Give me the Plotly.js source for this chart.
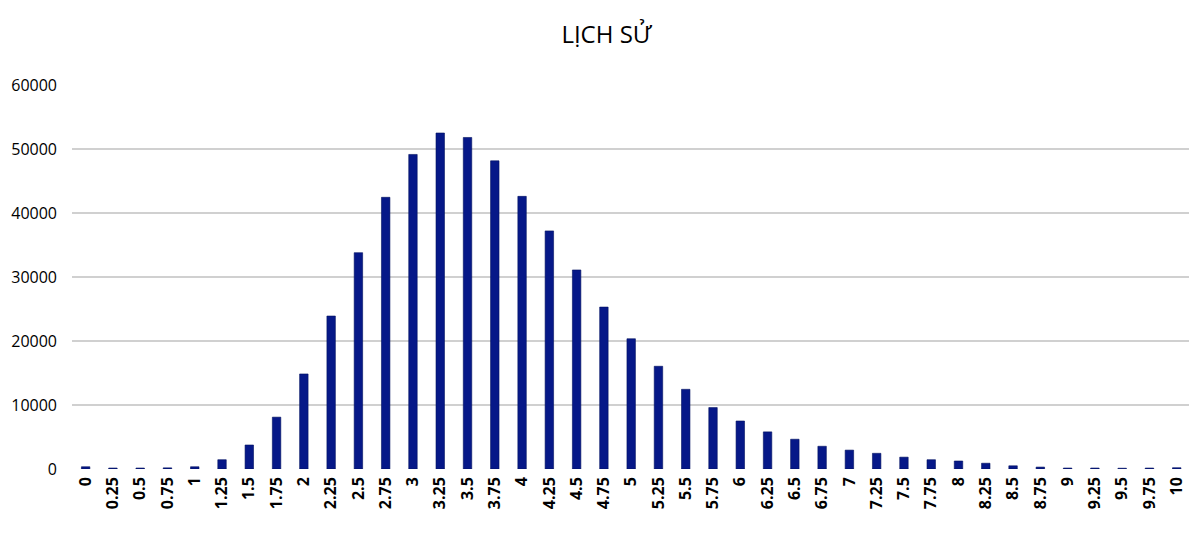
<!DOCTYPE html>
<html>
<head>
<meta charset="utf-8">
<script src="https://cdn.plot.ly/plotly-3.0.1.min.js"></script>
<style>
  html, body { margin: 0; padding: 0; background: #fff; }
  #chart { width: 1189px; height: 535px; }
</style>
</head>
<body>
<div id="chart"></div>
<script>
// Categories (x labels) and counts
const categories = ['0', '0.25', '0.5', '0.75', '1', '1.25', '1.5', '1.75', '2', '2.25',
  '2.5', '2.75', '3', '3.25', '3.5', '3.75', '4', '4.25', '4.5', '4.75',
  '5', '5.25', '5.5', '5.75', '6', '6.25', '6.5', '6.75', '7', '7.25',
  '7.5', '7.75', '8', '8.25', '8.5', '8.75', '9', '9.25', '9.5', '9.75', '10'];

const counts = [350, 150, 150, 180, 350, 1450, 3750, 8100, 14850, 23900,
  33800, 42450, 49150, 52500, 51800, 48150, 42600, 37200, 31100, 25300,
  20350, 16050, 12450, 9600, 7500, 5800, 4650, 3550, 2950, 2450,
  1850, 1450, 1250, 900, 500, 300, 150, 150, 120, 150, 200];

const yTicks = [0, 10000, 20000, 30000, 40000, 50000, 60000];

const chartTitle = 'LỊCH SỬ';

var histTrace = {
  x: categories,
  y: counts,
  type: 'bar',
  marker: { color: '#061888', line: { color: '#00105f', width: 0.6 } },
  hoverinfo: 'x+y',
};

var histLayout = {
  width: 1189,
  height: 535,
  title: {
    text: chartTitle,
    x: 0.51,
    xanchor: 'center',
    y: 0.935,
    yanchor: 'middle',
    font: { family: 'Open Sans, sans-serif', size: 24, weight: 500, color: '#000' },
  },
  font: { family: 'Open Sans, sans-serif', size: 16, color: '#000' },
  margin: { t: 85, b: 66, l: 72, r: 0, pad: 0 },
  bargap: 0.69,
  plot_bgcolor: '#fff',
  paper_bgcolor: '#fff',
  showlegend: false,
  xaxis: {
    type: 'category',
    // right end a little past the last bar so the "10" label stays inside
    range: [-0.5, 40.45],
    tickangle: -90,
    ticks: '',
    showline: false,
    showgrid: false,
    zeroline: false,
    ticklabelstandoff: 4,
    automargin: false,
    tickfont: { family: 'Open Sans, sans-serif', size: 16, weight: 700, color: '#000' },
  },
  yaxis: {
    range: [0, 60000],
    tickvals: yTicks,
    ticktext: yTicks.map((v) => String(v)),
    showgrid: true,
    gridcolor: '#d0d0d0',
    gridwidth: 1.5,
    zeroline: false,
    showline: false,
    ticks: '',
    ticklabelstandoff: 14,
    tickfont: { family: 'Open Sans, sans-serif', size: 16, weight: 500, color: '#000' },
  },
};

var config = { responsive: false, displayModeBar: false, staticPlot: true };

Plotly.newPlot('chart', [histTrace], histLayout, config);
</script>
</body>
</html>
